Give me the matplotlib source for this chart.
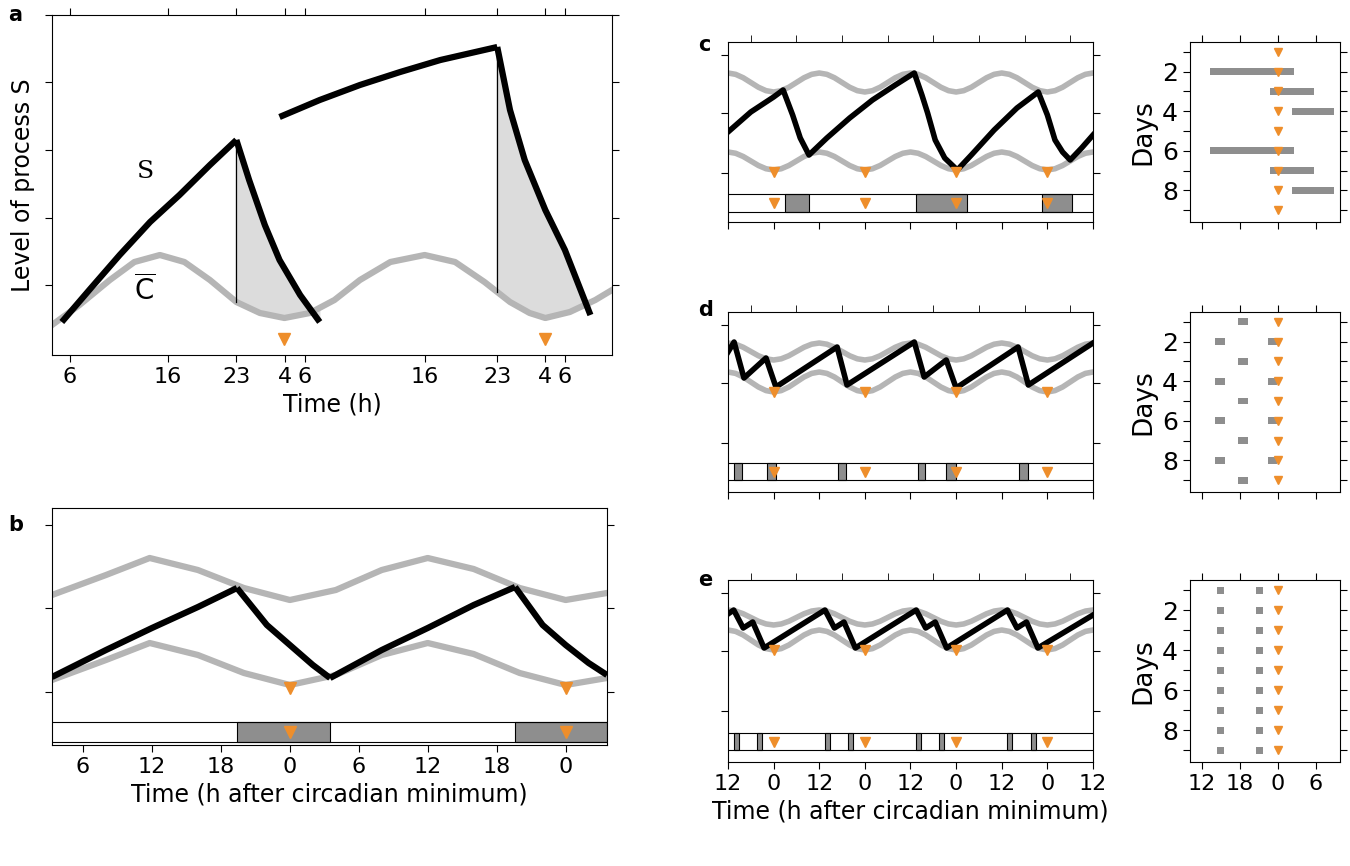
import numpy as np
import matplotlib.pyplot as plt
from matplotlib.patches import Rectangle

GREY = '#b5b5b5'
BOX = '#8e8e8e'
ORANGE = '#ee8e2b'

# ---- panel a (hours of real time, level in arbitrary units) ----
a_c_t = [4.2, 7.0, 10.1, 12.6, 15.2, 17.7, 20.3, 23.0, 25.4, 27.9, 30.5, 33.0,
         35.6, 38.7, 42.2, 45.3, 48.3, 50.9, 52.9, 54.5, 57.0, 59.6, 61.3]
a_c_v = [30, 50, 75, 93, 100, 93, 75, 53, 42, 37, 42, 55, 75, 93, 100, 93, 73,
         53, 42, 37, 43, 55, 65]
a_wake1_t = [5.2, 8.0, 11.1, 14.2, 17.2, 20.3, 23.0]
a_wake1_v = [33, 65, 100, 133, 160, 190, 215]
a_sleep1_t = [23.0, 24.3, 25.9, 27.4, 29.5, 31.5]
a_sleep1_v = [215, 175, 130, 95, 60, 33]
a_wake2_t = [27.4, 31.5, 35.6, 39.7, 43.8, 49.6]
a_wake2_v = [238, 255, 270, 283, 295, 308]
a_sleep2_t = [49.6, 50.9, 52.4, 54.5, 56.5, 59.1]
a_sleep2_v = [308, 245, 195, 145, 105, 40]
a_min_t = [27.9, 54.5]
a_ticks = [6, 16, 23, 28, 30, 42.2, 49.6, 54.5, 56.5]
a_ticklabels = ['6', '16', '23', '4', '6', '16', '23', '4', '6']

# ---- panel b (hours after circadian minimum) ----
b_t = [-20.7, -16, -12.2, -8, -4, 0, 4, 8, 12, 16, 20, 24, 27.6]
b_upper = [150, 170, 187, 175, 157, 145, 155, 175, 187, 176, 157, 145, 152]
b_lower = [65, 85, 102, 90, 72, 60, 70, 90, 102, 91, 72, 60, 67]
b_s_t = [[-20.7, -16, -12, -8, -4.6], [-4.6, -2, 0, 2, 3.5],
         [3.5, 8, 12, 16, 19.6], [19.6, 22, 24, 26, 27.6]]
b_s_v = [[68, 95, 117, 138, 157], [157, 120, 100, 80, 67],
         [67, 95, 117, 140, 158], [158, 120, 100, 82, 70]]
b_sleep = [(-4.6, 3.5), (19.6, 27.6)]
b_min_t = [0, 24]
b_ticks = [-18, -12, -6, 0, 6, 12, 18, 24]
b_ticklabels = ['6', '12', '18', '0', '6', '12', '18', '0']

# ---- panels c-e: shared threshold shape (fraction below max, every 2 h from minimum) ----
grey_hours = list(range(-12, 85, 2))
grey_profile = [0.0, 0.07, 0.25, 0.5, 0.75, 0.93, 1.0, 0.93, 0.75, 0.5, 0.25, 0.07]
cde_ticks = [-12, 0, 12, 24, 36, 48, 60, 72, 84]
cde_ticklabels = ['12', '0', '12', '0', '12', '0', '12', '0', '12']
cde_min_t = [0, 24, 48, 72]

c_upper = (149, 130)   # max, min level
c_lower = (70, 52)
c_s_t = [-12, -6, 0, 2.5, 5, 7, 9.3, 14, 20, 26, 32, 37, 39, 40.5, 42.5, 45, 48.3,
         52, 58, 64, 69.6, 72, 74, 76, 78, 81, 84]
c_s_v = [90, 110, 125, 132, 107, 84, 67, 84, 104, 122, 137, 149, 127, 109, 82, 64,
         52, 67, 92, 114, 130, 107, 82, 70, 62, 74, 87]
c_sleep = [(3.0, 9.3), (37.5, 50.9), (70.6, 78.5)]

d_upper = (149, 132)
d_lower = (120, 100)
d_s_t = [-12, -10.4, -7.8, -2, 0.6, 16.7, 19.3, 37, 39.6, 45.4, 48, 64.3, 67, 84]
d_s_v = [140, 150, 114, 134, 105, 145, 107, 150, 115, 132, 104, 145, 107, 149]
d_sleep = [(-10.4, -8.4), (-1.7, 0.6), (17, 19), (38, 39.7), (45.4, 48), (64.6, 67)]

e_upper = (152, 137)
e_lower = (132, 112)
e_s_t = [-12, -10.5, -8, -5.5, -2.5, 13.5, 16, 18.5, 21.5, 37.5, 40, 42.5, 45.5,
         61.5, 64, 66.5, 69.5, 84]
e_s_v = [148, 152, 134, 140, 114, 152, 134, 140, 114, 152, 134, 140, 114, 152,
         134, 140, 114, 147]
e_sleep = [(-10.5, -9.2), (-4.4, -3.1), (13.5, 14.8), (19.6, 20.9), (37.5, 38.8),
           (43.6, 44.9), (61.5, 62.8), (67.6, 68.9)]

# ---- side raster panels (hour relative to circadian minimum, day) ----
days = [1, 2, 3, 4, 5, 6, 7, 8, 9]
c_bar_days = [2, 3, 4, 6, 7, 8]
c_bar_start = [-10.7, -1.3, 2.2, -10.7, -1.3, 2.2]
c_bar_end = [2.5, 5.7, 8.8, 2.5, 5.7, 8.8]
d_bar_days = [1, 2, 2, 3, 4, 4, 5, 6, 6, 7, 8, 8, 9]
d_bar_start = [-6.3, -9.9, -1.6, -6.3, -9.9, -1.6, -6.3, -9.9, -1.6, -6.3, -9.9, -1.6, -6.3]
e_bar_days = [1, 1, 2, 2, 3, 3, 4, 4, 5, 5, 6, 6, 7, 7, 8, 8, 9, 9]
e_bar_start = [-9.6, -3.4] * 9
side_ticks = [-12, -6, 0, 6]
side_ticklabels = ['12', '18', '0', '6']

W, H = 1350, 866
fig = plt.figure(figsize=(W / 100, H / 100), dpi=100)
plt.rcParams['font.family'] = 'DejaVu Sans'


def add_ax(x0, x1, y0, y1):
    return fig.add_axes([x0 / W, 1 - y1 / H, (x1 - x0) / W, (y1 - y0) / H])


def style(ax):
    ax.tick_params(direction='out', length=5, top=True, right=True,
                   labelsize=16, width=0.8)
    for sp in ax.spines.values():
        sp.set_linewidth(0.8)


# panel a
ax = add_ax(52, 612, 15, 355)
ax.plot(a_c_t, a_c_v, color=GREY, lw=4.5, zorder=2)
for ts, vs in [(a_sleep1_t, a_sleep1_v), (a_sleep2_t, a_sleep2_v)]:
    ct = np.interp(ts, a_c_t, a_c_v)
    ax.fill(list(ts) + list(ts[::-1]), list(vs) + list(ct[::-1]), color='#dcdcdc', zorder=1)
    ax.plot([ts[0], ts[0]], [np.interp(ts[0], a_c_t, a_c_v), vs[0]], color='k', lw=0.9)
for ts, vs in [(a_wake1_t, a_wake1_v), (a_sleep1_t, a_sleep1_v),
               (a_wake2_t, a_wake2_v), (a_sleep2_t, a_sleep2_v)]:
    ax.plot(ts, vs, color='k', lw=4.5, zorder=3, solid_capstyle='butt')
ax.plot(a_min_t, [16, 16], 'v', color=ORANGE, ms=9, zorder=4)
ax.text(13.7, 183, 'S', fontsize=18, family='DejaVu Serif', ha='center', va='center')
ax.text(13.7, 65, r'$\overline{\mathrm{C}}$', fontsize=20, ha='center', va='center')
ax.set_xlim(4.2, 61.3)
ax.set_ylim(0, 340)
ax.set_xticks(a_ticks, a_ticklabels)
ax.set_yticks([70, 137, 205, 273, 340])
ax.set_yticklabels([])
style(ax)
ax.tick_params(labeltop=False)
ax.set_xlabel('Time (h)', fontsize=17)
ax.set_ylabel('Level of process S', fontsize=17)

# panel b
ax = add_ax(52, 607, 508, 745)
ax.plot(b_t, b_upper, color=GREY, lw=4.5)
ax.plot(b_t, b_lower, color=GREY, lw=4.5)
for ts, vs in zip(b_s_t, b_s_v):
    ax.plot(ts, vs, color='k', lw=4.5, solid_capstyle='butt')
ax.axhline(23, color='k', lw=0.8)
ax.axhline(3, color='k', lw=0.8)
for s0, s1 in b_sleep:
    ax.add_patch(Rectangle((s0, 3), s1 - s0, 20, facecolor=BOX, edgecolor='k', lw=0.8))
ax.plot(b_min_t, [57, 57], 'v', color=ORANGE, ms=9)
ax.plot(b_min_t, [13, 13], 'v', color=ORANGE, ms=9)
ax.set_xlim(-20.7, 27.6)
ax.set_ylim(0, 237)
ax.set_xticks(b_ticks, b_ticklabels)
ax.set_yticks([53, 137, 220])
ax.set_yticklabels([])
style(ax)
ax.tick_params(top=False)
ax.set_xlabel('Time (h after circadian minimum)', fontsize=17)


def grey_curve(vmax, vmin):
    prof = np.array(grey_profile * 5)[:len(grey_hours)]
    return vmax - (vmax - vmin) * prof


def main_panel(y0, y1, upper, lower, st, sv, sleeps, strip, min_lvl, last):
    ax = add_ax(728, 1093, y0, y1)
    ax.plot(grey_hours, grey_curve(*upper), color=GREY, lw=4)
    ax.plot(grey_hours, grey_curve(*lower), color=GREY, lw=4)
    ax.plot(st, sv, color='k', lw=4)
    ax.plot(cde_min_t, [min_lvl] * 4, 'v', color=ORANGE, ms=7)
    lo, hi = strip
    ax.axhline(lo, color='k', lw=0.8)
    ax.axhline(hi, color='k', lw=0.8)
    for s0, s1 in sleeps:
        ax.add_patch(Rectangle((s0, lo), s1 - s0, hi - lo, facecolor=BOX,
                               edgecolor='k', lw=0.8))
    ax.plot(cde_min_t, [(lo + hi) / 2] * 4, 'v', color=ORANGE, ms=7)
    ax.set_xlim(-12, 84)
    ax.set_ylim(0, y1 - y0)
    ax.set_xticks(cde_ticks, cde_ticklabels if last else [])
    ax.set_xticks([-6, 6, 18, 30, 42, 54, 66, 78], minor=True)
    ax.set_yticks([y1 - y0 - 13, y1 - y0 - 71, y1 - y0 - 131])
    ax.set_yticklabels([])
    style(ax)
    ax.tick_params(which='minor', top=True, bottom=False, length=5, direction='out')
    ax.tick_params(which='major', top=False)
    if last:
        ax.set_xlabel('Time (h after circadian minimum)', fontsize=17)
    return ax


def side_panel(y0, y1, bar_days, bar_start, bar_end, last):
    ax = add_ax(1190, 1340, y0, y1)
    ax.barh(bar_days, np.array(bar_end) - np.array(bar_start), left=bar_start,
            height=0.35, color=BOX, zorder=1)
    ax.plot([0] * len(days), days, 'v', color=ORANGE, ms=6, zorder=2)
    ax.set_xlim(-13.9, 9.8)
    ax.set_ylim(9.6, 0.5)
    ax.set_yticks(days, ['', '2', '', '4', '', '6', '', '8', ''])
    ax.set_xticks(side_ticks, side_ticklabels if last else [])
    style(ax)
    ax.tick_params(axis='y', labelsize=18)
    ax.set_ylabel('Days', fontsize=19)
    return ax


main_panel(42, 222, c_upper, c_lower, c_s_t, c_s_v, c_sleep, (10, 28), 50, False)
main_panel(312, 492, d_upper, d_lower, d_s_t, d_s_v, d_sleep, (12, 29), 100, False)
main_panel(580, 762, e_upper, e_lower, e_s_t, e_s_v, e_sleep, (12, 29), 112, True)

side_panel(42, 222, c_bar_days, c_bar_start, c_bar_end, False)
side_panel(312, 492, d_bar_days, d_bar_start, [s + 1.5 for s in d_bar_start], False)
side_panel(580, 762, e_bar_days, e_bar_start, [s + 1.0 for s in e_bar_start], True)

for lbl, x, y in [('a', 8, 15), ('b', 8, 525), ('c', 698, 45), ('d', 698, 310), ('e', 698, 580)]:
    fig.text(x / W, 1 - y / H, lbl, fontsize=15, fontweight='bold', va='center')

fig.savefig('out.png', dpi=100)
